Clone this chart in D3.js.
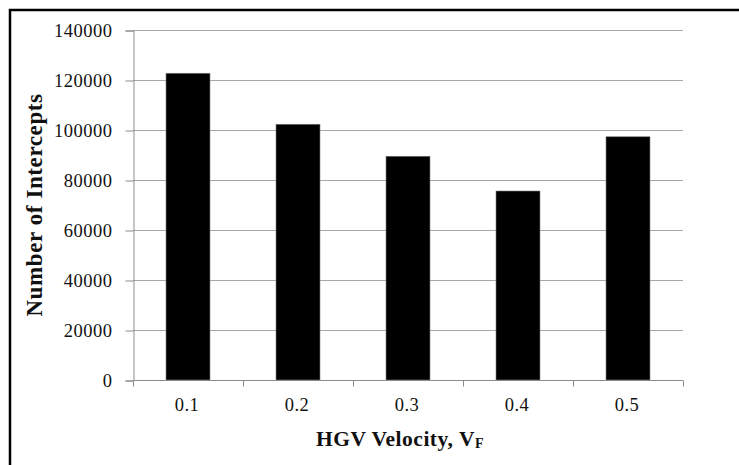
<!DOCTYPE html>
<html>
<head>
<meta charset="utf-8">
<script src="https://cdn.jsdelivr.net/npm/d3@7"></script>
<style>
  html, body { margin: 0; padding: 0; background: #fff; }
  svg { display: block; }
</style>
</head>
<body>
<svg id="chart" width="739" height="465"></svg>
<script>
const categories = ["0.1", "0.2", "0.3", "0.4", "0.5"];
const values = [122700, 102300, 89500, 75600, 97300];
const yTicks = [0, 20000, 40000, 60000, 80000, 100000, 120000, 140000];

const svg = d3.select("#chart");
const W = 739, H = 465;
const m = { left: 133, right: 56, top: 30, bottom: 85 };
const plotW = W - m.left - m.right; // 550
const plotH = H - m.top - m.bottom; // 350

// outer frame
svg.append("rect")
  .attr("x", 10).attr("y", 10)
  .attr("width", 800).attr("height", 600)
  .attr("fill", "none").attr("stroke", "#000").attr("stroke-width", 2.5);

const x = d3.scaleBand().domain(categories).range([m.left, m.left + plotW]).paddingInner(0.6).paddingOuter(0.3);
const xOuter = d3.scaleBand().domain(categories).range([m.left, m.left + plotW]).padding(0);
const y = d3.scaleLinear().domain([0, 140000]).range([m.top + plotH, m.top]);

// gridlines
svg.append("g")
  .selectAll("line").data(yTicks.filter(d => d > 0)).join("line")
  .attr("x1", m.left).attr("x2", m.left + plotW)
  .attr("y1", d => y(d) + 0.5).attr("y2", d => y(d) + 0.5)
  .attr("stroke", "#a6a6a6").attr("stroke-width", 1);

// bars
svg.append("g")
  .selectAll("rect").data(values).join("rect")
  .attr("x", (d, i) => x(categories[i]))
  .attr("y", d => y(d))
  .attr("width", x.bandwidth())
  .attr("height", d => y(0) - y(d))
  .attr("fill", "#000").attr("stroke", "#7f7f7f").attr("stroke-width", 0.6);

// y axis
const yAxis = svg.append("g")
  .attr("transform", `translate(${m.left + 0.5},0.5)`)
  .call(d3.axisLeft(y).tickValues(yTicks).tickFormat(d3.format("d")).tickSize(8).tickPadding(13));
yAxis.select(".domain").attr("stroke", "#8c8c8c");
yAxis.selectAll(".tick line").attr("stroke", "#8c8c8c");
yAxis.selectAll(".tick text")
  .attr("font-family", "'Liberation Serif', 'Times New Roman', serif")
  .attr("font-size", 18.5).attr("fill", "#111").attr("letter-spacing", "0.5px");

// x axis with ticks at category boundaries
const xAxisG = svg.append("g").attr("transform", `translate(0,${m.top + plotH + 0.5})`);
xAxisG.append("line")
  .attr("x1", m.left).attr("x2", m.left + plotW)
  .attr("stroke", "#8c8c8c");
const bounds = categories.map(c => xOuter(c)).concat([m.left + plotW]);
xAxisG.selectAll("line.tk").data(bounds).join("line").attr("class", "tk")
  .attr("x1", d => Math.round(d) + 0.5).attr("x2", d => Math.round(d) + 0.5)
  .attr("y1", 0).attr("y2", 6).attr("stroke", "#8c8c8c");
xAxisG.selectAll("text").data(categories).join("text")
  .attr("x", d => xOuter(d) + xOuter.bandwidth() / 2 - 1)
  .attr("y", 30)
  .attr("text-anchor", "middle")
  .attr("font-family", "'Liberation Serif', 'Times New Roman', serif")
  .attr("font-size", 18.5).attr("fill", "#111").attr("letter-spacing", "0.5px")
  .text(d => d);

// x title
const xt = svg.append("text")
  .attr("x", 400).attr("y", 446)
  .attr("text-anchor", "middle")
  .attr("font-family", "'Liberation Serif', 'Times New Roman', serif")
  .attr("font-weight", "bold").attr("font-size", 21.5).attr("fill", "#111")
  .attr("letter-spacing", "0.5px");
xt.append("tspan").text("HGV Velocity, V");
xt.append("tspan").attr("font-size", 14).attr("dy", 2).text("F");

// y title
svg.append("text")
  .attr("transform", "translate(42,205) rotate(-90)")
  .attr("text-anchor", "middle")
  .attr("font-family", "'Liberation Serif', 'Times New Roman', serif")
  .attr("font-weight", "bold").attr("font-size", 23).attr("fill", "#111")
  .attr("letter-spacing", "0.6px")
  .text("Number of Intercepts");
</script>
</body>
</html>
